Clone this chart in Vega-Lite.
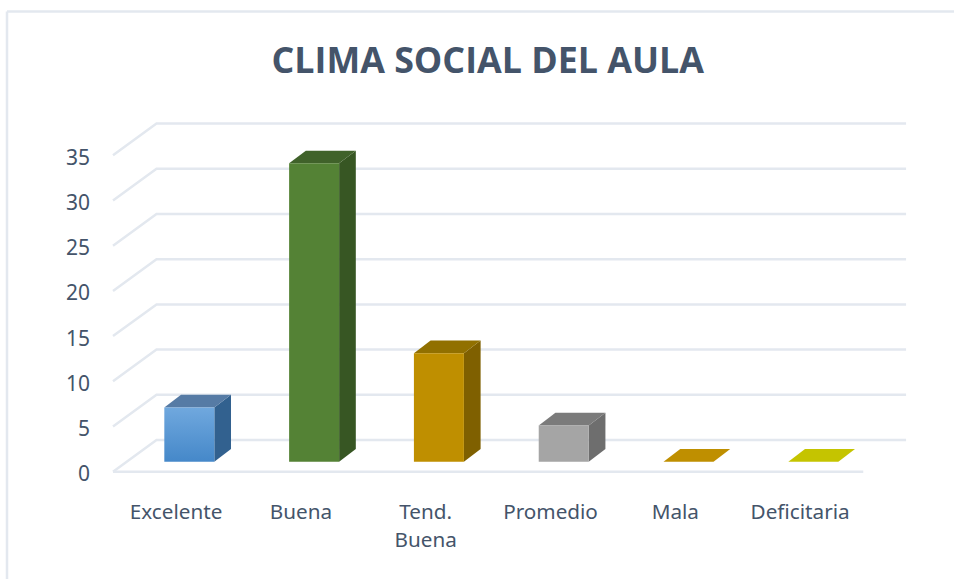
{
"$schema":"https://vega.github.io/schema/vega-lite/v6.json",
"width":947.5,"height":568,
"autosize":{"type":"none"},
"padding":{"left":6.5,"top":11,"right":0,"bottom":0},
"background":"white",
"config":{"view":{"stroke":null},"font":"Noto Sans"},
"title":{"text":"CLIMA SOCIAL DEL AULA","font":"Open Sans","fontSize":35.8,"fontWeight":"bold","color":"#44546a","anchor":"middle","frame":"group","dx":7.5,"dy":98,"offset":0,"baseline":"alphabetic"},
"datasets":{
"bars":[
{"category":"Excelente","value":6},
{"category":"Buena","value":33},
{"category":"Tend. Buena","value":12},
{"category":"Promedio","value":4},
{"category":"Mala","value":0},
{"category":"Deficitaria","value":0}],
"ticks":[{"level":0},{"level":5},{"level":10},{"level":15},{"level":20},{"level":25},{"level":30},{"level":35}]
},
"resolve":{"scale":{"fill":"independent"}},
"layer":[
{"data":{"name":"ticks"},
 "transform":[{"calculate":"[0,1,2]","as":"p"},{"flatten":["p"]},
  {"calculate":"datum.p==0?-0.5016:(datum.p==1?-0.153:5.853)","as":"gx"},
  {"calculate":"datum.level+(datum.p==0?0:3.507)","as":"gy"}],
 "mark":{"type":"line","stroke":"#e3e8ef","strokeWidth":2.5,"strokeJoin":"miter"},
 "encoding":{
  "x":{"field":"gx","type":"quantitative","scale":{"domain":[-1.355,6.237],"nice":false,"zero":false},
   "axis":{"orient":"bottom","title":null,"grid":false,"domain":false,"ticks":false,"values":[0,1,2,3,4,5],"labelExpr":"['Excelente','Buena',['Tend.','Buena'],'Promedio','Mala','Deficitaria'][datum.value]","labelFont":"Noto Sans","labelFontSize":20.7,"labelColor":"#44546a","labelPadding":-77,"labelBaseline":"top","labelAlign":"center","labelLineHeight":28,"labelFlush":false,"labelBound":false,"labelOverlap":false}},
  "y":{"field":"gy","type":"quantitative","scale":{"domain":[-11.87,50.96],"nice":false,"zero":false},
   "axis":{"orient":"left","title":null,"grid":false,"ticks":false,"domain":true,"domainColor":"#e3e8ef","domainWidth":2.5,"values":[0,5,10,15,20,25,30,35],"labelFont":"Noto Sans","labelFontSize":21,"labelColor":"#44546a","labelPadding":-83,"labelAlign":"right","labelBaseline":"middle","labelOffset":3,"labelFlush":false,"labelBound":false,"labelOverlap":false}},
  "detail":{"field":"level","type":"nominal"},
  "order":{"field":"p","type":"quantitative"}}},
{"data":{"values":[{"floor":-0.5016,"base":0},{"floor":5.51,"base":0}]},
 "mark":{"type":"line","stroke":"#e3e8ef","strokeWidth":2.5},
 "encoding":{"x":{"field":"floor","type":"quantitative","axis":{"orient":"top","title":null,"grid":false,"ticks":false,"labels":false,"values":[],"domain":true,"domainColor":"#e3e8ef","domainWidth":2.5}},"y":{"field":"base","type":"quantitative"}}},
{"data":{"name":"bars"},
 "transform":[{"window":[{"op":"row_number","as":"n"}]},{"calculate":"[0,1]","as":"t"},{"flatten":["t"]},
  {"calculate":"datum.n-1+0.3101+datum.t*0.1338","as":"sx"},
  {"calculate":"1.106+datum.t*1.405","as":"sy0"},
  {"calculate":"datum.value+datum.sy0","as":"sy1"}],
 "mark":{"type":"area","line":false,"opacity":1},
 "encoding":{
  "x":{"field":"sx","type":"quantitative","axis":null},
  "y":{"field":"sy0","type":"quantitative","stack":null},
  "y2":{"field":"sy1"},
  "detail":{"field":"category","type":"nominal"},
  "fill":{"field":"category","type":"nominal","legend":null,"scale":{"domain":["Excelente","Buena","Tend. Buena","Promedio","Mala","Deficitaria"],"range":["#32618f","#375623","#7f6000","#6e6e6e","#7f6000","#a5a500"]}}}},
{"data":{"name":"bars"},
 "transform":[{"window":[{"op":"row_number","as":"n"}]},{"calculate":"[0,1]","as":"t"},{"flatten":["t"]},
  {"calculate":"datum.n-1-0.0905+datum.t*0.1338","as":"tx0"},
  {"calculate":"datum.tx0+0.4006","as":"tx1"},
  {"calculate":"datum.value+1.106+datum.t*1.405","as":"ty"}],
 "mark":{"type":"area","orient":"horizontal","line":false},
 "encoding":{
  "y":{"field":"ty","type":"quantitative"},
  "x":{"field":"tx0","type":"quantitative","stack":null,"axis":null},
  "x2":{"field":"tx1"},
  "detail":{"field":"category","type":"nominal"},
  "fill":{"field":"category","type":"nominal","legend":null,"scale":{"domain":["Excelente","Buena","Tend. Buena","Promedio","Mala","Deficitaria"],"range":["#567ba5","#40622a","#917000","#7b7b7b","#bf8f00","#c5c400"]}}}},
{"data":{"name":"bars"},
 "transform":[{"window":[{"op":"row_number","as":"n"}]},
  {"calculate":"datum.n-1-0.0905","as":"fx0"},
  {"calculate":"datum.fx0+0.4006","as":"fx1"},
  {"calculate":"1.106","as":"fy0"},
  {"calculate":"datum.value+1.106","as":"fy1"},
  {"filter":"datum.value>0 && datum.category!='Excelente'"}],
 "mark":{"type":"rect"},
 "encoding":{
  "x":{"field":"fx0","type":"quantitative","axis":null},"x2":{"field":"fx1"},
  "y":{"field":"fy0","type":"quantitative"},"y2":{"field":"fy1"},
  "fill":{"field":"category","type":"nominal","legend":null,"scale":{"domain":["Buena","Tend. Buena","Promedio"],"range":["#548235","#bf8f00","#a5a5a5"]}}}},
{"data":{"name":"bars"},
 "transform":[{"window":[{"op":"row_number","as":"n"}]},
  {"calculate":"datum.n-1-0.0905","as":"fx0"},
  {"calculate":"datum.fx0+0.4006","as":"fx1"},
  {"calculate":"1.106","as":"fy0"},
  {"calculate":"datum.value+1.106","as":"fy1"},
  {"filter":"datum.category=='Excelente'"}],
 "mark":{"type":"rect","fill":{"x1":0,"y1":0,"x2":0,"y2":1,"gradient":"linear","stops":[{"offset":0,"color":"#70a8de"},{"offset":1,"color":"#4588c9"}]}},
 "encoding":{
  "x":{"field":"fx0","type":"quantitative","axis":null},"x2":{"field":"fx1"},
  "y":{"field":"fy0","type":"quantitative"},"y2":{"field":"fy1"}}}
]}
